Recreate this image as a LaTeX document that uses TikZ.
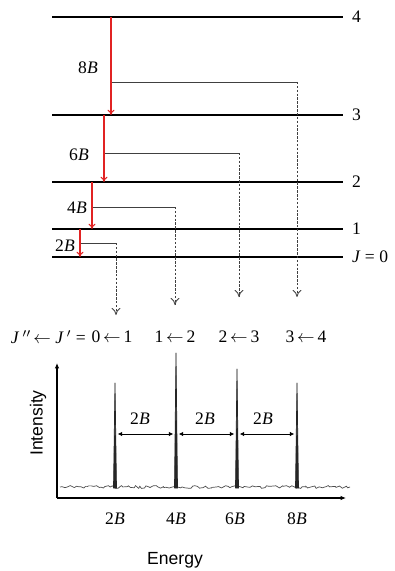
\documentclass[tikz,border=0pt]{standalone}
\usepackage{fontspec}
\setmainfont{Liberation Serif}
\setsansfont{Liberation Sans}
\usetikzlibrary{positioning, arrows.meta, decorations.pathmorphing}
\definecolor{transred}{RGB}{225,35,35}

\begin{document}
\begin{tikzpicture}[x=0.02cm, y=-0.02cm,
			level/.style={line width=1.1pt},
			trans/.style={draw=transred, line width=0.6pt, -{To[length=3pt, width=4pt]}},
			link/.style={draw=black!75, line width=0.5pt},
			drop/.style={draw=black!75, line width=0.5pt, dash pattern=on 1.4pt off 0.8pt, -{To[length=4pt, width=5pt]}},
			axis/.style={line width=0.7pt, -{Latex[length=3pt, width=2.5pt]}},
			gap/.style={line width=0.5pt, {Latex[length=2.5pt, width=2.5pt]}-{Latex[length=2.5pt, width=2.5pt]}, shorten <=1.5pt, shorten >=1.5pt},
			lbl/.style={inner sep=1pt},
			]
			\useasboundingbox (0,0) rectangle (395,571);
			
			%% ── Rotational levels ─────────────────────────────────────────────
			\foreach \j/\y in {4/17, 3/115, 2/182, 1/229} {
				\coordinate (a\j) at (52,\y);
				\coordinate (b\j) at (343,\y);
				\draw[level] (a\j) -- (b\j);
				\node[lbl, anchor=west] (lv\j) at (350,\y) {\j};
			}
			\coordinate (a0) at (52,257);
			\coordinate (b0) at (343,257);
			\draw[level] (a0) -- (b0);
			\node[lbl, anchor=west] (lv0) at (350,257) {\textit{J} = 0};
			
			%% ── Transitions ───────────────────────────────────────────────────
			\coordinate (s4) at (111,17);  \coordinate (e4) at (111,115);
			\coordinate (s3) at (104,115); \coordinate (e3) at (104,182);
			\coordinate (s2) at (92,182);  \coordinate (e2) at (92,229);
			\coordinate (s1) at (80,229);  \coordinate (e1) at (80,257);
			\draw[trans] (s4) -- (e4);
			\draw[trans] (s3) -- (e3);
			\draw[trans] (s2) -- (e2);
			\draw[trans] (s1) -- (e1);
			\node[lbl] (d8) at (88,68)  {8\textit{B}};
			\node[lbl] (d6) at (79,155) {6\textit{B}};
			\node[lbl] (d4) at (77,208) {4\textit{B}};
			\node[lbl] (d2) at (65,246) {2\textit{B}};
			
			%% ── Links down to the lines ───────────────────────────────────────
			\foreach \j/\xa/\xb/\y/\yd in {4/112/297/82/297, 3/105/239/153/297, 2/93/175/207/305, 1/81/116/243/315} {
				\coordinate (m\j) at (\xa,\y);
				\coordinate (k\j) at (\xb,\y);
				\coordinate (f\j) at (\xb,\yd);
				\draw[link] (m\j) -- (k\j);
				\draw[drop] (k\j) -- (f\j);
			}
			
			\node[lbl, anchor=east] (jj) at (88,337) {\textit{J}\,$''\!\leftarrow$ \textit{J}\,$'$ =};
			\node[lbl] (q1) at (112,337) {0\,$\leftarrow$\,1};
			\node[lbl] (q2) at (175,337) {1\,$\leftarrow$\,2};
			\node[lbl] (q3) at (239,337) {2\,$\leftarrow$\,3};
			\node[lbl] (q4) at (306,337) {3\,$\leftarrow$\,4};
			
			%% ── Spectrum ──────────────────────────────────────────────────────
			\coordinate (o) at (57,498);
			\coordinate (ytop) at (57,363);
			\coordinate (xend) at (346,498);
			\draw[axis] (o) -- (ytop);
			\draw[axis] (o) -- (xend);
			
			\pgfmathsetseed{7}
			\draw[black!70, line width=0.4pt, decorate, decoration={random steps, segment length=1.3pt, amplitude=0.8pt}] (60,487) -- (350,487);
			
			\foreach \i/\x/\t in {1/115/383, 2/176/353, 3/237/369, 4/297/383} {
				\coordinate (pk\i) at (\x,\t);
				\coordinate (g\i) at (\x,434);
				\filldraw[black!85, line width=0.4pt, line join=round] (\x-1.5,488) -- (pk\i) -- (\x+1.5,488) -- cycle;
			}
			\draw[gap] (g1) -- (g2);
			\draw[gap] (g2) -- (g3);
			\draw[gap] (g3) -- (g4);
			\node[lbl] (w1) at (140,419) {2\textit{B}};
			\node[lbl] (w2) at (205,419) {2\textit{B}};
			\node[lbl] (w3) at (263,419) {2\textit{B}};
			
			\node[lbl] (t1) at (115,519) {2\textit{B}};
			\node[lbl] (t2) at (176,519) {4\textit{B}};
			\node[lbl] (t3) at (235,519) {6\textit{B}};
			\node[lbl] (t4) at (297,519) {8\textit{B}};
			
			\node[lbl, font=\sffamily] (en) at (175,560) {Energy};
			\node[lbl, font=\sffamily, rotate=90] (in) at (38,423) {Intensity};
			
		\end{tikzpicture}
\end{document}
